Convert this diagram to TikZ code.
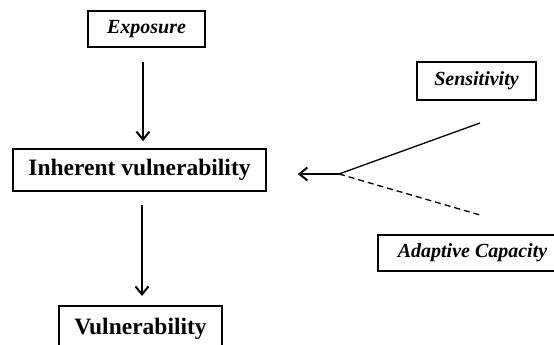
\documentclass[tikz,border=0pt]{standalone}
\usepackage{fontspec}
\setmainfont{Liberation Serif}
\usetikzlibrary{arrows.meta,calc}
\tikzset{
  boxb/.style={draw=black, line width=1.6pt, inner sep=0pt, font=\fontsize{23.5}{26}\selectfont\bfseries},
  boxi/.style={draw=black, line width=1.6pt, inner sep=0pt, font=\fontsize{20}{23}\selectfont\bfseries\itshape},
  arr/.style={line width=1.5pt, -{Straight Barb[length=8pt,width=13pt,line width=2pt]}},
  ln/.style={line width=1.3pt},
}
\begin{document}
\begin{tikzpicture}[x=1pt,y=-1pt]
\clip (0,0) rectangle (554,345);
\fill[white] (0,0) rectangle (554,345);
\node[boxi, minimum width=117pt, minimum height=36pt] (expo) at (146.5,29) {Exposure};
\node[boxb, minimum width=253pt, minimum height=42pt] (inh) at (139.5,170) {Inherent vulnerability};
\node[boxb, minimum width=163pt, minimum height=46pt, anchor=north] (vul) at (140.5,305) {\raisebox{-4pt}{Vulnerability}};
\node[boxi, minimum width=119pt, minimum height=38pt] (sens) at (476.5,81) {Sensitivity};
\node[boxi, minimum width=189pt, minimum height=36pt] (adap) at (472.5,253) {Adaptive Capacity};
\coordinate (ax1) at (143,0);
\coordinate (ax2) at (142,0);
\coordinate (j) at (339,174);
\coordinate (s1) at (480,123);
\coordinate (a1) at (480,215);
\draw[arr, shorten <=14pt, shorten >=7pt] (expo.south -| ax1) -- (inh.north -| ax1);
\draw[arr, shorten <=13pt, shorten >=9pt] (inh.south -| ax2) -- (vul.north -| ax2);
\draw[ln] (s1) -- (j);
\draw[ln, dash pattern=on 6pt off 4pt] (j) -- (a1);
\draw[arr, shorten >=31pt] (j) -- (inh.east |- j);
\end{tikzpicture}
\end{document}
